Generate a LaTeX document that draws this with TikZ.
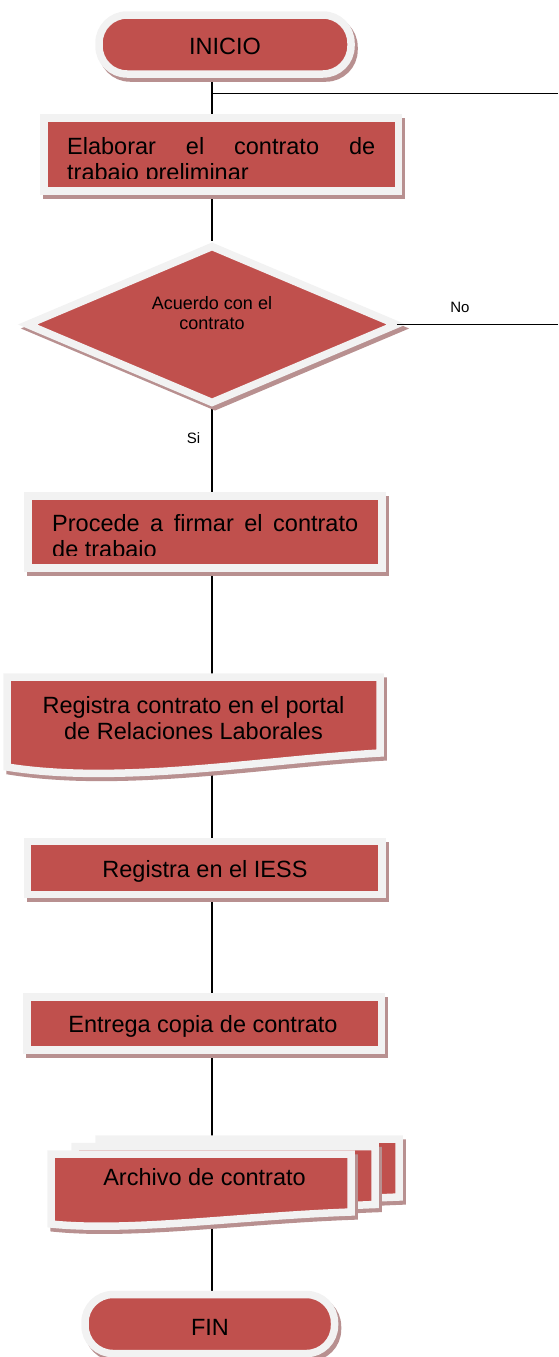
\documentclass[tikz,border=0pt]{standalone}
\usepackage{fontspec}
\setmainfont{Liberation Sans}
\usetikzlibrary{backgrounds,shapes.geometric}
\definecolor{boxred}{HTML}{C0504D}
\definecolor{rimwhite}{HTML}{F2F2F2}
\definecolor{shadowcol}{HTML}{B89090}
\newcommand\boxfont{\fontsize{23.5}{26}\selectfont}
\newcommand\diafont{\fontsize{18}{20}\selectfont}
\newcommand\lblfont{\fontsize{15}{17}\selectfont}
\tikzset{
  flowshape/.style={fill=boxred, draw=rimwhite, line width=7.5pt, inner sep=0pt},
  shadowed/.style={preaction={fill=shadowcol, draw=shadowcol, line width=7.5pt, transform canvas={shift={(3pt,-4pt)}}}},
  docshape/.style={flowshape, shadowed},
  rectbox/.style={flowshape, shadowed, rectangle},
  termbox/.style={flowshape, shadowed, rectangle, rounded corners=28pt},
  boxtext/.style={inner sep=0pt, font=\boxfont, text=black},
  conn/.style={draw=black, line width=1.8pt},
}
\begin{document}
\begin{tikzpicture}[x=1pt,y=-1pt]
\path[use as bounding box] (0,0) rectangle (558,1357);
\coordinate (spine) at (211.7,0);

% INICIO
\node[termbox, minimum width=252pt, minimum height=59pt] (inicio) at (225,44.5) {};
\node[boxtext, anchor=base] (inicio-t) at (225,54) {INICIO};

% top branch
\coordinate (j1) at (211.7,93.5);
\coordinate (topend) at (558,93.5);
\draw[conn] (j1) -- (topend);

% Elaborar
\node[rectbox, minimum width=354.5pt, minimum height=73pt] (elab) at (221.25,154.5) {};
\begin{scope}
  \clip (48,122) rectangle (395,178.5);
  \node[boxtext, anchor=base west] (elab-t1) at (67,154) {\makebox[308pt][s]{Elaborar el contrato de}};
  \node[boxtext, anchor=base west] (elab-t2) at (67,180) {trabajo preliminar};
\end{scope}

% Decision
\node[flowshape, shadowed, diamond, minimum width=372pt, minimum height=159pt] (dia) at (212,324.5) {};
\node[inner sep=0pt, font=\diafont, anchor=base] (dia-t1) at (212,309) {Acuerdo con el};
\node[inner sep=0pt, font=\diafont, anchor=base] (dia-t2) at (212,329) {contrato};
\coordinate (noend) at (558,324.5);
\draw[conn] ([xshift=-5pt]dia.east) -- (noend);
\node[inner sep=0pt, font=\lblfont, anchor=base] (nolbl) at (460,312) {No};
\node[inner sep=0pt, font=\lblfont, anchor=base] (silbl) at (193.5,443) {Si};

% Procede
\node[rectbox, minimum width=354pt, minimum height=72pt] (proc) at (205,532) {};
\begin{scope}
  \clip (32,499) rectangle (378,555);
  \node[boxtext, anchor=base west] (proc-t1) at (52,531) {\makebox[306pt][s]{Procede a firmar el contrato}};
  \node[boxtext, anchor=base west] (proc-t2) at (52,557) {de trabajo};
\end{scope}

% Registra contrato (document)
\draw[docshape] (7,677) -- (380,677) -- (380,753) .. controls (260,760) and (120,785) .. (7,767) -- cycle;
\node[boxtext, anchor=base] (reg-t1) at (193.5,713) {Registra contrato en el portal};
\node[boxtext, anchor=base] (reg) at (193.5,739) {de Relaciones Laborales};

% IESS
\node[rectbox, minimum width=354.5pt, minimum height=53pt] (iess) at (204.75,868) {};
\node[boxtext, anchor=base] (iess-t) at (205,877) {Registra en el IESS};

% Entrega
\node[rectbox, minimum width=354.5pt, minimum height=53pt] (entr) at (204,1023.5) {};
\node[boxtext, anchor=base] (entr-t) at (203,1032) {Entrega copia de contrato};

% Archivo (multi-document)
\foreach \dx/\dy in {48/-15, 24/-7.5, 0/0} {
  \draw[docshape, shift={(\dx,\dy)}] (51,1154) -- (351,1154) -- (351,1212) .. controls (240,1216) and (130,1232) .. (51,1224) -- cycle;
}
\node[boxtext, anchor=base] (arch) at (204.5,1185) {Archivo de contrato};

% FIN
\node[termbox, minimum width=249.5pt, minimum height=59pt] (fin) at (209.75,1324) {};
\node[boxtext, anchor=base] (fin-t) at (210,1335) {FIN};

% spine connectors
\begin{scope}[on background layer]
  \draw[conn] (inicio.south -| spine) -- (elab.north -| spine);
  \draw[conn] (elab.south -| spine) -- (dia.north -| spine);
  \draw[conn] (dia.south -| spine) -- (proc.north -| spine);
  \draw[conn] (proc.south -| spine) -- (reg-t1.north -| spine);
  \draw[conn] (reg.south -| spine) -- (iess.north -| spine);
  \draw[conn] (iess.south -| spine) -- (entr.north -| spine);
  \draw[conn] (entr.south -| spine) -- (arch.north -| spine);
  \draw[conn] (arch.south -| spine) -- (fin.north -| spine);
\end{scope}
\end{tikzpicture}
\end{document}
